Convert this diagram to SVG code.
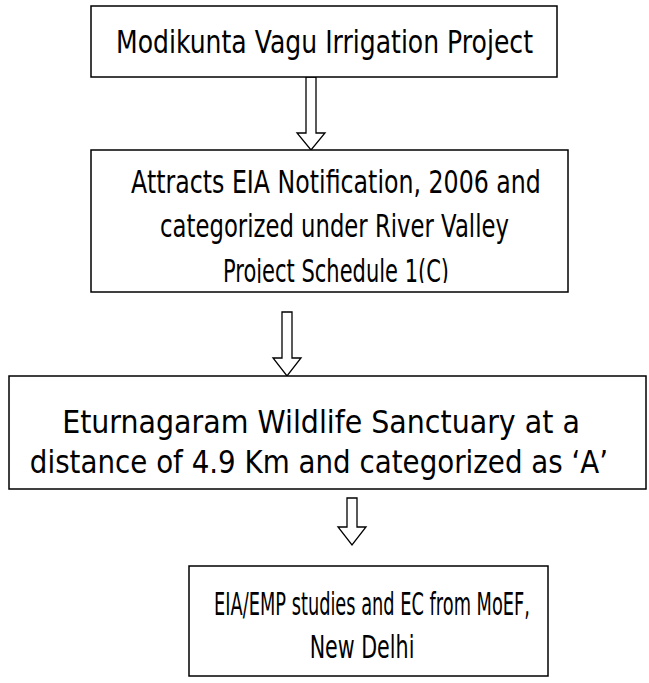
<svg xmlns="http://www.w3.org/2000/svg" width="649" height="683" viewBox="0 0 649 683">
<style>
.box{fill:#fff;stroke:#000;stroke-width:1.5}
.arr{fill:#fff;stroke:#000;stroke-width:1.3;stroke-linejoin:miter}
text{font-family:"DejaVu Sans","Verdana",sans-serif;font-size:32px;fill:#000;text-anchor:middle}
</style>
<defs>
<clipPath id="clip2"><rect x="91" y="150" width="477" height="133"/></clipPath>
</defs>
<rect width="649" height="683" fill="#fff"/>
<g id="connectors">
<polygon class="arr" points="306,77 316,77 316,133 325,133 311,150 297,133 306,133"/>
<polygon class="arr" points="282,312 292,312 292,358 301,358 287,376 273,358 282,358"/>
<polygon class="arr" points="347,498 357,498 357,527 366,527 352,545 338,527 347,527"/>
</g>
<g id="node1">
<rect class="box" x="91" y="6" width="466" height="71"/>
<text transform="translate(324.5,53) scale(0.7765,1)" x="0" y="0" textLength="537" lengthAdjust="spacingAndGlyphs">Modikunta Vagu Irrigation Project</text>
</g>
<g id="node2">
<rect class="box" x="91" y="150" width="477" height="142"/>
<text transform="translate(336,193) scale(0.7397,1)" x="0" y="0" textLength="554" lengthAdjust="spacingAndGlyphs">Attracts EIA Notification, 2006 and</text>
<text transform="translate(334.5,237) scale(0.7075,1)" x="0" y="0" textLength="493" lengthAdjust="spacingAndGlyphs">categorized under River Valley</text>
<g clip-path="url(#clip2)">
<text transform="translate(336,282) scale(0.6535,1)" x="0" y="0" textLength="346" lengthAdjust="spacingAndGlyphs">Project Schedule 1(C)</text>
</g>
</g>
<g id="node3">
<rect class="box" x="9" y="376" width="637" height="113"/>
<text transform="translate(321,433) scale(0.888,1)" x="0" y="0" textLength="583" lengthAdjust="spacingAndGlyphs">Eturnagaram Wildlife Sanctuary at a</text>
<text transform="translate(319,473) scale(0.8657,1)" x="0" y="0" textLength="668" lengthAdjust="spacingAndGlyphs">distance of 4.9 Km and categorized as ‘A’</text>
</g>
<g id="node4">
<rect class="box" x="189" y="566" width="359" height="110"/>
<text transform="translate(372,615) scale(0.555,1)" x="0" y="0" textLength="569" lengthAdjust="spacingAndGlyphs">EIA/EMP studies and EC from MoEF,</text>
<text transform="translate(362,658) scale(0.6466,1)" x="0" y="0" textLength="162" lengthAdjust="spacingAndGlyphs">New Delhi</text>
</g>
</svg>
